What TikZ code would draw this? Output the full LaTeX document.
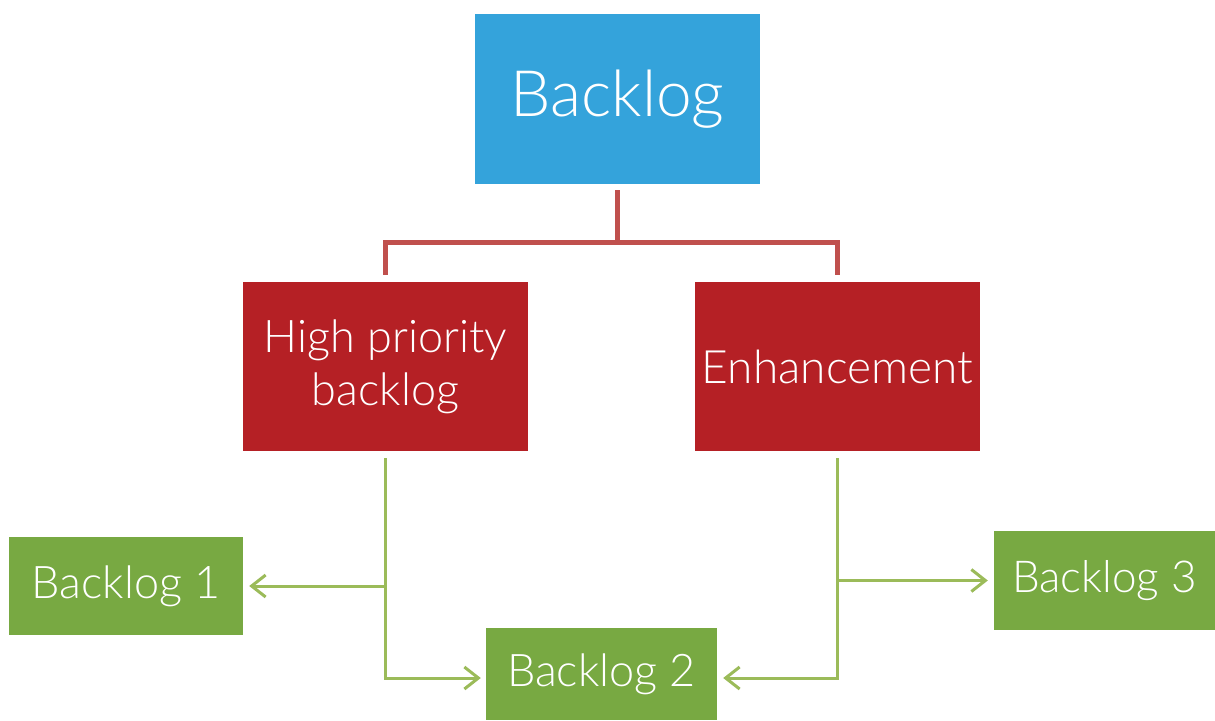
\documentclass[tikz,border=0pt]{standalone}
\usepackage{fontspec}
\setmainfont{Lato}[UprightFont=* Light]
\usetikzlibrary{arrows.meta}

\definecolor{topblue}{HTML}{34A3DB}
\definecolor{boxred}{HTML}{B52025}
\definecolor{linered}{HTML}{C0504D}
\definecolor{boxgreen}{HTML}{78A942}
\definecolor{linegreen}{HTML}{9BBB59}

\begin{document}
\begin{tikzpicture}[x=1pt,y=-1pt,
    box/.style={inner sep=0pt, text=white, align=center},
    redline/.style={color=linered, line width=5pt},
    greenline/.style={color=linegreen, line width=3pt,
      -{Straight Barb[length=14pt,width=22pt,line width=3pt]}}]
  \useasboundingbox (0,0) rectangle (1215,720);

  \node[box, fill=topblue, minimum width=285pt, minimum height=170pt,
    font=\fontsize{64}{70}\selectfont] (top) at (617.5,99) {Backlog};

  \node[box, fill=boxred, minimum width=285pt, minimum height=169pt,
    font=\fontsize{45}{53}\selectfont] (high) at (385.5,366.5) {High priority\\backlog};
  \node[box, fill=boxred, minimum width=285pt, minimum height=169pt,
    font=\fontsize{46}{53}\selectfont] (enh) at (837.5,366.5) {Enhancement};

  \node[box, fill=boxgreen, minimum width=234pt, minimum height=98pt,
    font=\fontsize{45}{50}\selectfont] (b1) at (126,586) {Backlog 1};
  \node[box, fill=boxgreen, minimum width=231pt, minimum height=92pt,
    font=\fontsize{45}{50}\selectfont] (b2) at (601.5,674) {Backlog 2};
  \node[box, fill=boxgreen, minimum width=221pt, minimum height=99pt,
    font=\fontsize{44}{50}\selectfont] (b3) at (1104.5,580.5) {Backlog 3};

  % red fork
  \coordinate (fork) at (617.5,242);
  \draw[redline, shorten <=6pt] (top.south) -- (fork);
  \draw[redline, shorten <=7pt, shorten >=7pt] (high.north) |- (fork) -| (enh.north);

  % green arrows
  \draw[greenline, shorten <=7pt, shorten >=5pt] (high.south) -- (high.south |- 0,678) -- (b2.west |- 0,678);
  \draw[greenline, shorten >=6pt] (high.south |- b1.east) -- (b1.east);
  \draw[greenline, shorten <=7pt, shorten >=6pt] (enh.south) -- (enh.south |- 0,678) -- (b2.east |- 0,678);
  \draw[greenline, shorten >=6pt] (enh.south |- b3.west) -- (b3.west);
\end{tikzpicture}
\end{document}
